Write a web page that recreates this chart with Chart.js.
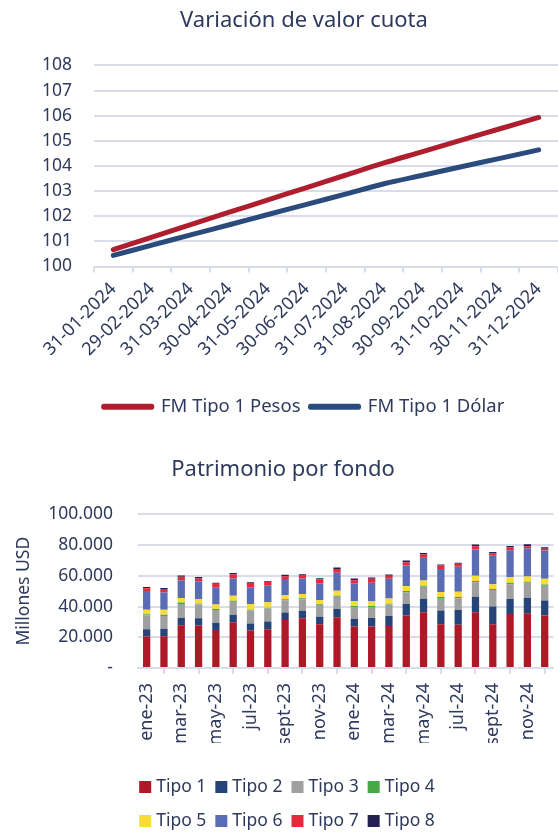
<!DOCTYPE html>
<html>
<head>
<meta charset="utf-8">
<script src="https://cdn.jsdelivr.net/npm/chart.js@4.4.1/dist/chart.umd.min.js"></script>
<style>
  html, body { margin: 0; background: #fff; overflow: hidden; }
  canvas { display: block; }
</style>
</head>
<body>
<canvas id="cuota" width="608" height="440"></canvas>
<canvas id="patrimonio" width="558" height="395"></canvas>
<script>
// Variación de valor cuota (base 100)
const fechas = ["31-01-2024", "29-02-2024", "31-03-2024", "30-04-2024", "31-05-2024", "30-06-2024",
                "31-07-2024", "31-08-2024", "30-09-2024", "31-10-2024", "30-11-2024", "31-12-2024"];
const cuotaPesos = [100.67, 101.17, 101.67, 102.16, 102.65, 103.14, 103.63, 104.12, 104.57, 105.03, 105.48, 105.93];
const cuotaDolar = [100.44, 100.85, 101.26, 101.66, 102.07, 102.47, 102.88, 103.29, 103.63, 103.97, 104.30, 104.64];

// Patrimonio por fondo (millones USD)
const meses = ["ene-23", "feb-23", "mar-23", "abr-23", "may-23", "jun-23", "jul-23", "ago-23", "sept-23", "oct-23", "nov-23", "dic-23",
               "ene-24", "feb-24", "mar-24", "abr-24", "may-24", "jun-24", "jul-24", "ago-24", "sept-24", "oct-24", "nov-24", "dic-24"];
const tipo1 = [20500, 20700, 27900, 27600, 24800, 29800, 24400, 25300, 31300, 32400, 28500, 33000,
               27000, 27000, 27400, 34100, 36300, 28500, 28100, 36300, 28500, 35200, 35600, 34100];
const tipo2 = [4800, 4800, 4700, 4800, 4600, 4800, 4500, 4900, 4800, 4800, 4800, 5400,
               5000, 5600, 6500, 7600, 8800, 8900, 9700, 10100, 11500, 9700, 10200, 9800];
const tipo3 = [9000, 8400, 9100, 8900, 8400, 8600, 8500, 8500, 8000, 7500, 7700, 8000,
               7700, 7100, 7400, 7500, 7800, 7700, 7600, 9500, 10800, 9700, 9700, 9700];
const tipo4 = [700, 700, 900, 600, 600, 600, 600, 600, 600, 700, 500, 600,
               700, 700, 600, 900, 700, 1100, 800, 700, 600, 900, 700, 700];
const tipo5 = [3000, 3400, 3000, 3000, 2900, 3300, 3500, 3500, 2800, 2800, 2800, 3300,
               3200, 3200, 3300, 3300, 3400, 3300, 3500, 3400, 3200, 3700, 3400, 3800];
const tipo6 = [12100, 11200, 11400, 11500, 11000, 11200, 11000, 10800, 10400, 10100, 10800, 11700,
               11500, 11900, 12900, 13300, 14700, 14900, 16200, 17100, 18400, 17500, 18400, 18400];
const tipo7 = [1800, 2200, 2400, 1900, 2600, 2800, 2800, 2600, 1900, 2200, 2600, 2500,
               2100, 2600, 2000, 2200, 2200, 2300, 1900, 2200, 1500, 1700, 1300, 1100];
const tipo8 = [900, 700, 900, 900, 600, 700, 600, 400, 900, 600, 800, 900,
               1100, 900, 800, 1100, 900, 700, 700, 1100, 1100, 1100, 1300, 1000];

const FONT = '"Noto Sans", "Open Sans", sans-serif';
const TEXT = "#2E3A5C";
const GRID = "#D9DCEB";

Chart.defaults.font.family = FONT;
Chart.defaults.color = TEXT;

function miles(v) {
    if (v === 0) return "-";
    return String(v).replace(/\B(?=(\d{3})+(?!\d))/g, ".");
}

// legend drawn in fixed rows of 4, like the original
const gridLegend = {
    id: "gridLegend",
    afterDraw(chart, args, opts) {
        const ctx = chart.ctx;
        const sets = chart.data.datasets;
        ctx.save();
        ctx.font = opts.font;
        ctx.textBaseline = "middle";
        for (let r = 0; r * opts.perRow < sets.length; r++) {
            const row = sets.slice(r * opts.perRow, (r + 1) * opts.perRow);
            const widths = row.map(ds => opts.box + opts.gap + ctx.measureText(ds.label).width);
            const total = widths.reduce((a, b) => a + b, 0) + opts.spacing * (row.length - 1);
            let x = opts.centerX - total / 2;
            const y = opts.top + r * opts.rowHeight;
            row.forEach((ds, i) => {
                ctx.fillStyle = ds.backgroundColor;
                ctx.fillRect(x, y - opts.box / 2, opts.box, opts.box);
                ctx.fillStyle = opts.color;
                ctx.fillText(ds.label, x + opts.box + opts.gap, y);
                x += widths[i] + opts.spacing;
            });
        }
        ctx.restore();
    }
};

// top chart (canvas is wider than the page so title/legend sit right of centre, as in the original)
new Chart(document.getElementById("cuota"), {
    type: "line",
    data: {
        labels: fechas,
        datasets: [
            { label: "FM Tipo 1 Pesos", data: cuotaPesos, borderColor: "#AF1E2D", backgroundColor: "#AF1E2D",
              borderWidth: 5, borderCapStyle: "round", borderJoinStyle: "round", pointRadius: 0, tension: 0.3 },
            { label: "FM Tipo 1 Dólar", data: cuotaDolar, borderColor: "#2A4B7C", backgroundColor: "#2A4B7C",
              borderWidth: 5, borderCapStyle: "round", borderJoinStyle: "round", pointRadius: 0, tension: 0.3 }
        ]
    },
    options: {
        responsive: false,
        animation: false,
        layout: { padding: { top: 0, left: 0, right: 0, bottom: 14 } },
        plugins: {
            title: {
                display: true,
                text: "Variación de valor cuota",
                font: { size: 22, weight: "normal" },
                color: TEXT,
                padding: { top: 8, bottom: 31 }
            },
            legend: {
                position: "bottom",
                labels: { boxWidth: 48, boxHeight: 1, padding: 10, font: { size: 18.5 }, color: TEXT }
            },
            tooltip: { enabled: false }
        },
        scales: {
            x: {
                offset: true,
                grid: { offset: true, drawOnChartArea: false, tickLength: 6, color: GRID, lineWidth: 2 },
                border: { color: GRID, width: 2 },
                ticks: { autoSkip: false, minRotation: 45, maxRotation: 45, padding: 6, font: { size: 18 }, color: TEXT },
                afterFit(scale) { scale.height = 121; }
            },
            y: {
                min: 100,
                max: 108,
                ticks: { stepSize: 1, padding: 22, font: { size: 17.5 }, color: TEXT },
                grid: { drawTicks: false, color: GRID, lineWidth: 2 },
                border: { display: false },
                afterFit(scale) { scale.width = 94; }
            },
            // empty right-hand spacer: keeps the plot inside the 558px page
            spacer: {
                type: "linear",
                position: "right",
                ticks: { display: false },
                grid: { display: false },
                border: { display: false },
                afterFit(scale) { scale.width = 50; }
            }
        }
    }
});

// bottom chart
const colores = ["#AD1927", "#264478", "#A0A0A0", "#46A944", "#F7DC36", "#5A6DB4", "#E8283B", "#22214F"];
const series = [tipo1, tipo2, tipo3, tipo4, tipo5, tipo6, tipo7, tipo8];

new Chart(document.getElementById("patrimonio"), {
    type: "bar",
    data: {
        labels: meses,
        datasets: series.map((vals, i) => ({
            label: "Tipo " + (i + 1),
            data: vals,
            backgroundColor: colores[i],
            barPercentage: 0.42,
            categoryPercentage: 1
        }))
    },
    plugins: [gridLegend],
    options: {
        responsive: false,
        animation: false,
        layout: { padding: { top: 0, left: 8, right: 0, bottom: 92 } },
        plugins: {
            title: {
                display: true,
                text: "Patrimonio por fondo",
                font: { size: 22, weight: "normal" },
                color: TEXT,
                padding: { top: 17, bottom: 31 }
            },
            legend: { display: false },
            tooltip: { enabled: false },
            gridLegend: {
                font: '17.5px ' + FONT, color: TEXT,
                perRow: 4, box: 12, gap: 5, spacing: 9,
                centerX: 287, top: 347, rowHeight: 34
            }
        },
        scales: {
            x: {
                stacked: true,
                grid: { offset: true, drawOnChartArea: false, tickLength: 6, color: GRID, lineWidth: 2 },
                border: { color: GRID, width: 2 },
                ticks: {
                    autoSkip: false, minRotation: 90, maxRotation: 90, padding: 9,
                    font: { size: 18 }, color: TEXT,
                    callback(v, i) { return i % 2 === 0 ? this.getLabelForValue(v) : null; }
                },
                afterFit(scale) { scale.height = 75; }
            },
            y: {
                stacked: true,
                min: 0,
                max: 100000,
                ticks: { stepSize: 20000, padding: 25, font: { size: 17.5 }, color: TEXT, callback: v => miles(v) },
                grid: { drawTicks: false, color: GRID, lineWidth: 2 },
                border: { display: false },
                title: { display: true, text: "Millones USD", font: { size: 17.5 }, color: TEXT, padding: { top: 6, bottom: 0 } },
                afterFit(scale) { scale.width = 130; }
            }
        }
    }
});
</script>
</body>
</html>
